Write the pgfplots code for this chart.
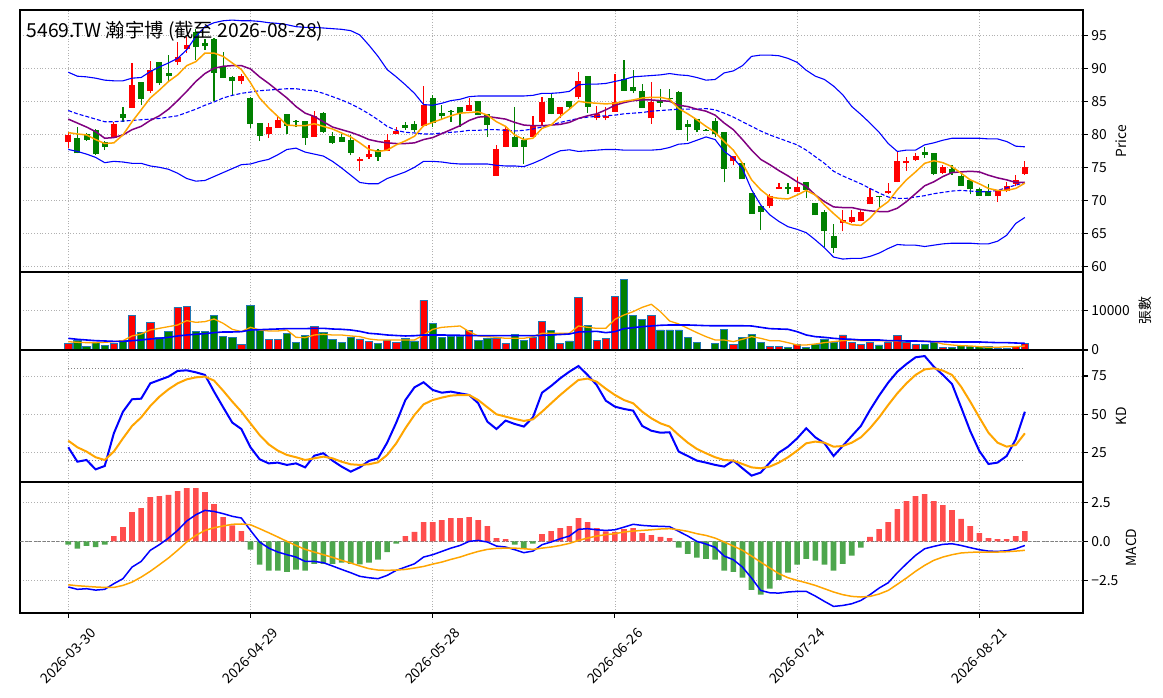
\documentclass[border=0pt]{standalone}
\usepackage{pgfplots}
\usepackage{pgfplotstable}
\pgfplotsset{compat=1.18}
\usepackage{fontspec}
\setmainfont{Noto Sans CJK TC}
\definecolor{mplgreen}{HTML}{008000}
\definecolor{edgeblue}{HTML}{1F77B4}
\definecolor{histred}{HTML}{FF4D4D}
\definecolor{histgreen}{HTML}{4DA64D}
\definecolor{mplorange}{HTML}{FFA500}
\definecolor{mplpurple}{HTML}{800080}
\definecolor{gridgray}{HTML}{B0B0B0}

\pgfplotstableread{
x O H L C
0 78.9 80.4 77.9 79.9
5 79.5 81.8 79.5 81.6
7 84.0 90.8 84.0 87.5
9 86.6 91.1 86.3 89.7
12 91.0 94.0 90.5 91.7
13 92.9 94.8 92.3 93.5
19 88.1 89.1 87.6 88.8
22 80.0 81.7 79.5 81.1
23 81.0 82.7 81.0 82.2
27 79.6 83.5 79.6 82.8
32 75.9 76.6 74.5 76.3
33 76.5 78.4 76.3 77.0
35 77.5 80.0 77.4 79.2
36 80.0 81.1 80.0 80.5
39 81.2 87.3 81.1 84.4
44 83.5 85.5 83.5 84.4
47 73.7 78.4 73.7 77.7
48 78.1 81.1 78.0 80.8
51 79.6 82.8 79.6 81.2
52 81.9 85.7 81.2 84.9
54 83.1 84.2 82.4 84.1
56 85.6 89.4 85.3 88.0
58 82.4 84.3 82.1 83.1
59 82.5 84.2 82.1 82.7
60 83.4 89.1 83.4 84.9
64 82.4 87.9 81.6 84.9
73 75.9 76.7 75.3 76.7
77 69.2 71.0 68.8 70.7
78 71.7 72.6 71.7 72.0
80 71.3 73.5 71.3 72.0
85 66.5 68.6 65.3 67.0
86 66.7 68.6 66.6 67.4
87 66.9 68.5 66.8 68.2
88 69.4 71.9 69.4 70.5
90 71.05 72.6 71.0 71.4
91 72.8 77.4 72.7 76.0
92 75.6 76.6 74.5 76.0
93 76.1 77.2 76.0 76.7
96 74.1 75.4 74.0 75.0
102 70.6 71.4 69.8 71.4
103 71.4 72.8 71.3 72.2
104 72.5 73.8 72.1 73.1
105 74.0 75.9 73.9 75.0
}\candleup

\pgfplotstableread{
x O H L C
1 79.5 81.1 77.1 77.1
2 80.0 80.2 79.0 79.2
3 80.6 80.8 76.9 77.0
4 78.9 79.0 77.6 78.1
6 83.1 84.1 81.9 82.5
8 87.9 87.9 84.5 85.4
10 91.0 91.0 87.5 87.7
11 89.3 92.0 88.1 88.8
14 95.5 96.0 91.3 93.2
15 93.8 94.5 92.8 93.3
16 94.4 94.6 85.1 89.3
17 90.2 92.5 88.5 88.5
18 88.7 88.8 85.9 88.0
20 85.5 85.6 81.0 81.6
21 81.7 81.7 79.0 79.8
24 83.0 83.0 80.0 81.2
25 82.0 82.1 81.1 81.8
26 82.0 82.0 78.4 79.4
28 83.3 83.4 80.2 80.3
29 79.7 80.3 78.6 78.7
30 79.6 80.0 78.8 78.8
31 79.2 79.9 76.8 77.2
34 77.6 77.7 76.0 76.6
37 81.4 81.8 80.7 81.0
38 81.6 82.0 80.3 80.6
40 85.5 86.0 81.1 81.7
41 83.2 84.4 82.1 82.7
42 83.6 83.7 81.9 83.4
43 84.1 84.1 81.1 83.2
45 85.0 85.1 82.9 82.9
46 83.0 83.1 79.6 81.4
49 79.6 84.1 78.1 78.1
50 79.1 79.6 75.5 78.1
53 85.5 86.1 83.0 83.1
55 85.0 85.1 83.8 84.2
57 88.8 88.9 83.2 84.2
61 88.3 91.3 86.6 86.6
62 87.1 89.7 86.2 86.6
63 86.6 87.6 84.0 84.0
65 85.0 86.8 84.1 84.8
66 85.5 86.8 84.9 85.4
67 86.4 86.6 80.6 80.6
68 81.6 82.2 79.0 81.1
69 82.3 82.3 80.3 80.6
70 80.7 80.75 80.55 80.6
71 82.0 82.4 79.6 80.0
72 80.3 80.3 72.7 74.8
74 75.6 75.6 73.2 73.2
75 71.1 71.1 68.0 68.0
76 69.1 69.1 65.5 68.2
79 72.0 72.6 70.9 71.7
81 72.7 72.7 70.3 71.6
82 69.6 69.6 67.7 67.7
83 68.3 68.6 62.9 65.3
84 64.6 66.4 62.0 62.8
89 70.7 70.7 68.8 70.6
94 77.3 78.1 76.4 76.9
95 77.1 77.2 73.8 74.0
97 74.7 75.4 73.9 74.1
98 73.7 74.1 72.2 72.2
99 73.1 73.3 70.9 71.7
100 71.7 71.9 70.7 70.7
101 71.4 72.4 70.6 70.6
}\candledn

\pgfplotstableread{
x ma5 ma10 mid up lo
0 80.25 82.3 83.6 89.4 77.7
1 80.05 81.7 83.1 88.8 77.4
2 79.9 81.1 82.7 88.7 77.0
3 79.2 80.4 82.3 88.5 76.5
4 78.6 79.4 81.9 88.2 75.7
5 78.7 79.5 81.9 88.1 75.9
6 79.9 79.9 82.0 88.1 75.8
7 81.9 80.7 82.1 88.5 75.6
8 83.7 81.2 82.2 88.6 75.6
9 85.5 82.1 82.3 89.5 75.2
10 86.7 82.8 82.4 90.2 75.0
11 88.0 83.8 82.6 90.8 74.7
12 89.0 85.1 82.8 91.5 74.1
13 90.4 86.5 83.3 92.8 73.3
14 91.0 88.0 83.8 94.8 72.9
15 92.3 89.2 84.4 96.3 73.0
16 92.3 90.0 84.9 96.9 73.6
17 91.8 90.3 85.5 97.2 74.2
18 90.8 90.4 85.9 97.3 74.8
19 89.8 90.4 86.2 97.2 75.4
20 87.8 89.9 86.4 97.2 75.5
21 85.5 88.7 86.6 97.1 75.9
22 84.0 87.7 86.7 96.9 76.2
23 82.7 86.6 86.8 96.8 76.9
24 81.4 85.5 86.9 96.6 77.7
25 81.3 84.2 86.9 96.3 77.9
26 81.3 83.2 86.7 96.2 77.3
27 81.6 82.7 86.6 96.2 77.0
28 81.2 81.9 86.2 96.1 76.7
29 80.8 81.1 85.7 96.0 75.9
30 80.2 80.7 85.2 95.9 74.9
31 79.6 80.3 84.6 95.7 73.8
32 78.7 79.8 83.9 95.05 72.7
33 77.7 79.2 83.1 93.5 72.5
34 77.4 78.9 82.2 91.8 72.5
35 77.6 78.7 81.2 89.8 73.3
36 78.4 78.6 80.6 88.7 73.8
37 79.0 78.6 80.3 87.5 74.3
38 79.7 78.7 80.2 86.2 75.0
39 81.3 79.2 80.05 84.5 75.9
40 81.8 79.5 80.05 84.4 75.9
41 82.3 80.1 80.2 84.7 75.8
42 82.8 80.7 80.3 85.1 75.6
43 83.2 81.3 80.4 85.3 75.5
44 83.3 82.1 80.6 85.7 75.5
45 83.4 82.6 80.6 85.8 75.5
46 82.9 82.7 80.7 85.8 75.5
47 81.9 82.5 80.7 85.8 75.3
48 81.2 82.3 80.6 85.8 75.2
49 79.9 81.8 80.5 85.8 75.2
50 79.2 81.4 80.6 85.8 75.1
51 79.4 81.3 80.8 85.9 75.6
52 80.9 81.3 81.1 86.2 76.2
53 81.4 81.4 81.4 86.2 76.9
54 82.7 81.5 81.8 86.3 77.5
55 83.8 81.8 82.1 86.5 77.65
56 85.0 82.4 82.4 87.5 77.4
57 84.8 82.8 82.6 87.6 77.5
58 84.7 83.1 82.7 87.6 77.6
59 84.6 83.7 82.8 87.7 77.7
60 84.7 84.4 82.9 88.0 77.7
61 85.0 84.8 83.1 88.3 77.6
62 85.2 85.1 83.2 88.7 77.6
63 85.5 85.2 83.3 88.8 77.6
64 85.6 85.2 83.5 88.9 77.6
65 85.6 85.1 83.6 89.0 77.7
66 85.3 85.0 83.7 89.2 78.0
67 83.9 84.4 83.8 89.0 78.5
68 83.1 84.2 83.8 88.9 78.6
69 82.2 83.8 83.8 88.6 79.1
70 81.2 83.5 83.9 88.2 79.6
71 80.3 82.9 83.7 88.3 79.2
72 78.9 81.7 83.2 89.3 77.4
73 77.6 80.7 82.6 89.6 76.4
74 75.6 79.2 81.9 90.4 74.8
75 73.1 77.6 81.2 91.8 71.6
76 71.6 76.2 80.5 92.0 69.3
77 70.5 75.4 79.9 92.0 67.8
78 70.3 74.5 79.4 91.9 66.8
79 70.2 73.7 78.9 91.5 66.0
80 70.8 72.8 78.4 90.9 65.6
81 71.5 72.1 77.6 89.7 65.1
82 70.8 70.8 76.6 88.8 64.0
83 69.3 69.8 75.6 88.3 62.8
84 68.0 69.0 74.4 87.3 61.4
85 66.8 68.9 73.7 86.0 61.1
86 66.3 68.9 73.1 84.2 61.2
87 66.2 68.6 72.5 83.0 61.2
88 67.3 68.4 71.8 81.7 61.5
89 68.8 68.3 71.1 80.3 62.0
90 69.8 68.3 70.5 78.6 62.7
91 71.6 68.8 70.3 77.4 63.3
92 73.1 69.8 70.3 77.6 63.2
93 74.3 71.0 70.5 77.6 63.2
94 75.6 72.2 70.7 78.4 63.0
95 76.0 72.8 71.0 78.7 63.2
96 75.7 73.6 71.2 79.1 63.4
97 75.1 74.2 71.4 79.4 63.5
98 74.1 74.3 71.5 79.4 63.5
99 73.1 74.4 71.4 79.4 63.5
100 72.5 74.3 71.3 79.4 63.4
101 71.8 73.8 71.3 79.3 63.4
102 71.5 73.4 71.5 79.3 63.8
103 71.5 73.1 71.9 78.9 64.7
104 71.8 72.7 72.3 78.2 66.5
105 72.6 72.7 72.7 78.1 67.4
}\pricelines

\pgfplotstableread{
x v
0 1680
5 1680
7 8740
9 6890
12 10750
13 10920
19 1340
22 2690
23 2690
27 5880
32 2770
33 2180
35 2350
36 1930
39 12520
44 4870
47 2940
48 1680
51 3110
52 7140
54 1680
56 13270
58 2440
59 2940
60 13440
64 8740
73 1340
77 840
78 840
80 1340
85 3780
86 1850
87 1340
88 1850
90 1850
91 3610
92 1850
93 1340
96 670
102 500
103 500
104 840
105 1600
}\volup

\pgfplotstableread{
x v
1 2520
2 840
3 1850
4 1090
6 2350
8 4370
10 3110
11 4700
14 4700
15 4620
16 8740
17 3440
18 3190
20 11260
21 5040
24 4200
25 1930
26 3700
28 4450
29 2690
30 1930
31 3190
34 1680
37 2940
38 2270
40 6720
41 3190
42 3530
43 3530
45 2440
46 2940
49 3950
50 2440
53 4870
55 2270
57 6220
61 17810
62 8740
63 7730
65 5040
66 5040
67 5040
68 3190
69 1930
70 150
71 1680
72 5210
74 3190
75 3950
76 1930
79 670
81 670
82 1340
83 2770
84 1850
89 1260
94 1340
95 1930
97 670
98 1180
99 840
100 840
101 840
}\voldn

\pgfplotstableread{
x vma5 vma20 K D dif sig
0 2100 2940 28.5 32.8 -2.91 -2.77
1 1930 2690 19.1 28.5 -3.06 -2.83
2 1850 2520 20.2 25.7 -3.02 -2.87
3 1850 2350 14.1 22.0 -3.11 -2.91
4 1930 2270 16.3 20.2 -3.06 -2.94
5 2100 2180 37.6 25.7 -2.70 -2.94
6 2350 2180 51.7 34.3 -2.38 -2.81
7 3530 2350 59.8 42.4 -1.64 -2.60
8 4030 2520 60.2 48.0 -1.28 -2.28
9 5040 2770 70.2 55.4 -0.57 -1.91
10 5460 2940 72.4 61.5 -0.21 -1.49
11 5880 3190 74.6 66.3 0.21 -1.06
12 6300 3530 78.3 70.2 0.70 -0.57
13 7390 3780 78.7 72.8 1.30 -0.04
14 6970 3950 77.4 74.1 1.70 0.38
15 7140 4120 75.7 74.6 1.98 0.70
16 7810 4370 64.8 72.0 1.91 0.87
17 6720 4540 54.6 65.4 1.77 0.98
18 5210 4540 44.6 58.3 1.60 1.09
19 4620 4620 40.4 51.7 1.49 1.11
20 5710 5040 28.5 44.1 0.70 1.06
21 5040 5120 20.7 36.5 -0.04 0.81
22 4790 5210 18.0 30.4 -0.43 0.55
23 4790 5290 18.5 26.3 -0.68 0.28
24 5040 5380 17.0 23.5 -0.85 0.00
25 3190 5380 18.0 22.0 -1.00 -0.26
26 3110 5380 15.4 20.2 -1.28 -0.51
27 3780 5460 23.0 21.3 -1.28 -0.68
28 3950 5460 24.6 22.4 -1.36 -0.85
29 3780 5290 19.8 21.3 -1.57 -1.02
30 3780 5210 15.9 19.1 -1.79 -1.21
31 3530 5040 12.6 17.4 -2.00 -1.38
32 3360 4700 15.4 17.0 -2.23 -1.57
33 2770 4200 19.6 17.4 -2.32 -1.74
34 2520 4030 21.3 18.7 -2.38 -1.83
35 2520 3780 31.5 23.5 -2.17 -1.85
36 2520 3650 44.6 31.1 -1.85 -1.83
37 2520 3530 59.3 40.9 -1.64 -1.79
38 2520 3600 67.6 49.6 -1.43 -1.70
39 3780 3780 70.9 56.5 -1.00 -1.60
40 5210 3780 65.9 59.3 -0.85 -1.45
41 5710 3780 64.1 60.9 -0.64 -1.32
42 5880 3740 64.8 62.2 -0.43 -1.15
43 6050 3700 63.7 62.6 -0.26 -1.00
44 4620 3650 62.6 62.6 0.00 -0.81
45 3530 3610 57.2 59.3 0.06 -0.64
46 3360 3610 45.2 54.6 -0.04 -0.51
47 3190 3610 40.4 50.0 -0.30 -0.45
48 2940 3610 45.9 48.5 -0.36 -0.43
49 2940 3610 43.7 47.0 -0.53 -0.43
50 2940 3610 42.0 45.7 -0.72 -0.47
51 3360 3610 48.0 46.7 -0.62 -0.51
52 4200 3700 64.1 51.7 -0.21 -0.43
53 4200 3780 68.5 57.2 -0.04 -0.36
54 4200 3900 73.5 62.6 0.17 -0.26
55 4200 4030 77.8 67.6 0.34 -0.13
56 6050 4540 81.5 72.4 0.77 0.06
57 5710 4620 75.7 73.3 0.81 0.21
58 5460 4700 69.1 71.3 0.74 0.34
59 5460 4370 58.9 66.7 0.70 0.43
60 7730 4620 55.0 62.6 0.74 0.49
61 8820 5380 53.5 59.3 0.91 0.60
62 9660 5630 52.4 57.2 1.09 0.66
63 10750 5880 42.4 51.7 1.02 0.70
64 11510 6050 39.3 47.4 0.98 0.74
65 9660 6220 38.0 44.1 0.96 0.79
66 7310 6300 38.3 42.0 0.94 0.81
67 6550 6300 25.7 36.5 0.64 0.74
68 5460 6300 22.8 31.5 0.34 0.64
69 4370 6220 19.8 27.4 0.00 0.49
70 3360 6130 18.5 24.6 -0.17 0.38
71 2520 6100 17.0 22.0 -0.38 0.21
72 2520 6100 15.9 20.2 -0.94 -0.04
73 2100 6100 19.8 19.8 -1.17 -0.30
74 2690 6100 14.8 17.6 -1.64 -0.57
75 3360 6050 10.0 15.4 -2.34 -0.94
76 2940 5710 12.0 14.8 -3.13 -1.32
77 2350 5380 18.5 15.9 -3.28 -1.70
78 2350 5290 25.0 18.5 -3.30 -2.06
79 1850 5210 28.9 22.0 -3.23 -2.32
80 1260 4620 34.3 26.3 -3.19 -2.49
81 1260 3780 40.9 31.1 -3.19 -2.64
82 1510 3360 35.0 32.2 -3.49 -2.81
83 1850 3190 31.1 31.5 -3.83 -3.02
84 2100 2940 22.8 28.9 -4.15 -3.23
85 2350 2770 29.3 29.3 -4.09 -3.40
86 2520 2690 35.9 31.5 -3.98 -3.51
87 2350 2520 42.4 35.0 -3.77 -3.55
88 2350 2520 52.8 40.9 -3.40 -3.51
89 2350 2520 62.2 48.0 -2.98 -3.36
90 2270 2350 70.7 56.1 -2.64 -3.13
91 2270 2350 77.8 63.7 -2.00 -2.74
92 2270 2270 82.8 70.2 -1.43 -2.34
93 2270 2270 87.2 75.7 -0.89 -1.91
94 2270 2180 88.0 79.3 -0.47 -1.53
95 2100 2100 81.1 80.0 -0.32 -1.21
96 1510 2100 75.7 78.5 -0.19 -1.00
97 1260 2020 69.8 75.7 -0.15 -0.85
98 1090 2020 54.6 68.0 -0.26 -0.74
99 1010 2020 39.1 58.3 -0.40 -0.70
100 840 2020 26.1 48.0 -0.53 -0.68
101 670 1930 17.6 38.0 -0.62 -0.68
102 670 1850 18.5 31.5 -0.64 -0.68
103 840 1850 22.8 28.9 -0.60 -0.66
104 840 1760 33.7 30.0 -0.47 -0.62
105 1010 1680 51.7 37.6 -0.26 -0.57
}\indic

\pgfplotstableread{
x h
5 0.34
6 0.91
7 1.87
8 2.13
9 2.83
10 2.89
11 2.96
12 3.21
13 3.40
14 3.40
15 3.15
16 2.38
17 1.55
18 1.02
19 0.66
37 0.34
38 0.60
39 1.23
40 1.23
41 1.36
42 1.49
43 1.49
44 1.55
45 1.36
46 0.98
47 0.21
48 0.15
52 0.47
53 0.66
54 0.85
55 0.98
56 1.49
57 1.23
58 0.85
59 0.64
60 0.60
61 0.79
62 0.85
63 0.53
64 0.40
65 0.28
66 0.21
88 0.28
89 0.79
90 1.23
91 2.06
92 2.57
93 2.89
94 3.02
95 2.57
96 2.32
97 2.00
98 1.43
99 0.98
100 0.53
101 0.21
102 0.15
103 0.15
104 0.34
105 0.66
}\histup

\pgfplotstableread{
x h
0 -0.21
1 -0.47
2 -0.28
3 -0.36
4 -0.21
20 -0.53
21 -1.49
22 -1.87
23 -1.87
24 -1.94
25 -1.81
26 -1.87
27 -1.43
28 -1.43
29 -1.43
30 -1.36
31 -1.43
32 -1.47
33 -1.36
34 -1.17
35 -0.68
36 -0.15
49 -0.21
50 -0.43
51 -0.15
67 -0.40
68 -0.79
69 -1.04
70 -1.11
71 -1.17
72 -1.87
73 -1.94
74 -2.32
75 -3.09
76 -3.40
77 -3.02
78 -2.45
79 -2.00
80 -1.49
81 -1.11
82 -1.23
83 -1.49
84 -1.87
85 -1.43
86 -0.91
87 -0.40
}\histdn

\pgfplotsset{
  panel/.style={
    scale only axis, width=1063bp, anchor=north west,
    xmin=-5.3, xmax=111.38, enlargelimits=false,
    axis line style={black, line width=1.1bp},
    tick align=outside, major tick length=4.86bp,
    ytick pos=right, yticklabel pos=right,
    xtick pos=left,
    xtick={0,20,40,60,80,100},
    grid=major,
    grid style={gridgray, line width=0.8bp, dash pattern=on 0.9bp off 1.9bp},
    tick style={black, line width=1.1bp},
    tick label style={font=\fontsize{13.9}{16}\selectfont},
    /pgf/number format/assume math mode=true,
    scaled y ticks=false,
  },
  hidex/.style={xticklabels={}, xtick style={draw=none}},
}

\begin{document}
\begin{tikzpicture}[x=1bp,y=1bp]
\useasboundingbox (0,0) rectangle (1163,698);

% ---------- Price ----------
\begin{axis}[panel, hidex, at={(20bp,688bp)}, height=262bp,
  ymin=59.14, ymax=98.83, ytick={60,65,70,75,80,85,90,95}]
\addplot[mark=none, draw=none, forget plot, error bars/.cd, y dir=plus, y explicit, error mark=none,
  error bar style={draw=red, line width=1.2bp}]
  table[x=x, y=L, y error plus expr={\thisrow{H}-\thisrow{L}}] {\candleup};
\addplot[mark=none, draw=none, forget plot, error bars/.cd, y dir=plus, y explicit, error mark=none,
  error bar style={draw=red, line width=6bp}]
  table[x=x, y=O, y error plus expr={\thisrow{C}-\thisrow{O}}] {\candleup};
\addplot[mark=none, draw=none, forget plot, error bars/.cd, y dir=plus, y explicit, error mark=none,
  error bar style={draw=mplgreen, line width=1.2bp}]
  table[x=x, y=L, y error plus expr={\thisrow{H}-\thisrow{L}}] {\candledn};
\addplot[mark=none, draw=none, forget plot, error bars/.cd, y dir=plus, y explicit, error mark=none,
  error bar style={draw=mplgreen, line width=6bp}]
  table[x=x, y=C, y error plus expr={\thisrow{O}-\thisrow{C}}] {\candledn};
\addplot[mark=none, blue, line width=1.1bp] table[x=x, y=up] {\pricelines};
\addplot[mark=none, blue, line width=1.1bp] table[x=x, y=lo] {\pricelines};
\addplot[mark=none, blue, line width=1.1bp, dash pattern=on 4bp off 2bp] table[x=x, y=mid] {\pricelines};
\addplot[mark=none, mplpurple, line width=1.5bp] table[x=x, y=ma10] {\pricelines};
\addplot[mark=none, mplorange, line width=1.5bp] table[x=x, y=ma5] {\pricelines};
\end{axis}

% ---------- Volume ----------
\begin{axis}[panel, hidex, at={(20bp,426bp)}, height=78bp,
  ymin=0, ymax=19650, ytick={0,10000}, yticklabels={0,10000}]
\addplot[ybar, bar width=0.8, bar shift=0pt, fill=red, draw=edgeblue, line width=0.8bp] table[x=x, y=v] {\volup};
\addplot[ybar, bar width=0.8, bar shift=0pt, fill=mplgreen, draw=edgeblue, line width=0.8bp] table[x=x, y=v] {\voldn};
\addplot[mark=none, mplorange, line width=1.3bp] table[x=x, y=vma5] {\indic};
\addplot[mark=none, blue, line width=1.6bp] table[x=x, y=vma20] {\indic};
\end{axis}

% ---------- KD ----------
\begin{axis}[panel, hidex, at={(20bp,348bp)}, height=132bp,
  ymin=5.86, ymax=91.96, ytick={25,50,75}]
\addplot[mark=none, gray, line width=0.9bp, dash pattern=on 1bp off 2bp] coordinates {(0,80) (105,80)};
\addplot[mark=none, gray, line width=0.9bp, dash pattern=on 1bp off 2bp] coordinates {(0,20) (105,20)};
\addplot[mark=none, blue, line width=2bp] table[x=x, y=K] {\indic};
\addplot[mark=none, mplorange, line width=2bp] table[x=x, y=D] {\indic};
\end{axis}

% ---------- MACD ----------
\begin{axis}[panel, at={(20bp,216bp)}, height=131bp,
  ymin=-4.57, ymax=3.79, ytick={-2.5,0,2.5}, yticklabels={−2.5,0.0,2.5},
  xticklabels={2026-03-30,2026-04-29,2026-05-28,2026-06-26,2026-07-24,2026-08-21},
  xticklabel style={yshift=-38.1bp, rotate=45, anchor=center}]
\addplot[mark=none, gray, line width=1bp, dash pattern=on 3bp off 1.5bp] coordinates {(-5.3,0) (111.38,0)};
\addplot[ybar, bar width=0.62, bar shift=0pt, fill=histred, draw=none] table[x=x, y=h] {\histup};
\addplot[ybar, bar width=0.62, bar shift=0pt, fill=histgreen, draw=none] table[x=x, y=h] {\histdn};
\addplot[mark=none, blue, line width=1.5bp] table[x=x, y=dif] {\indic};
\addplot[mark=none, mplorange, line width=1.5bp] table[x=x, y=sig] {\indic};
\end{axis}

% ---------- Texts ----------
\node[anchor=base west, inner sep=0pt, font=\fontsize{19.4}{23}\selectfont] at (26.5,660.7) {5469.TW 瀚宇博 (截至 2026-08-28)};
\node[rotate=90, font=\fontsize{13.9}{16}\selectfont] at (1121,557) {Price};
\node[rotate=90, font=\fontsize{13.9}{16}\selectfont] at (1145,387) {張數};
\node[rotate=90, font=\fontsize{13.9}{16}\selectfont] at (1121,282) {KD};
\node[rotate=90, font=\fontsize{13.9}{16}\selectfont] at (1131,150.5) {MACD};
\end{tikzpicture}
\end{document}
